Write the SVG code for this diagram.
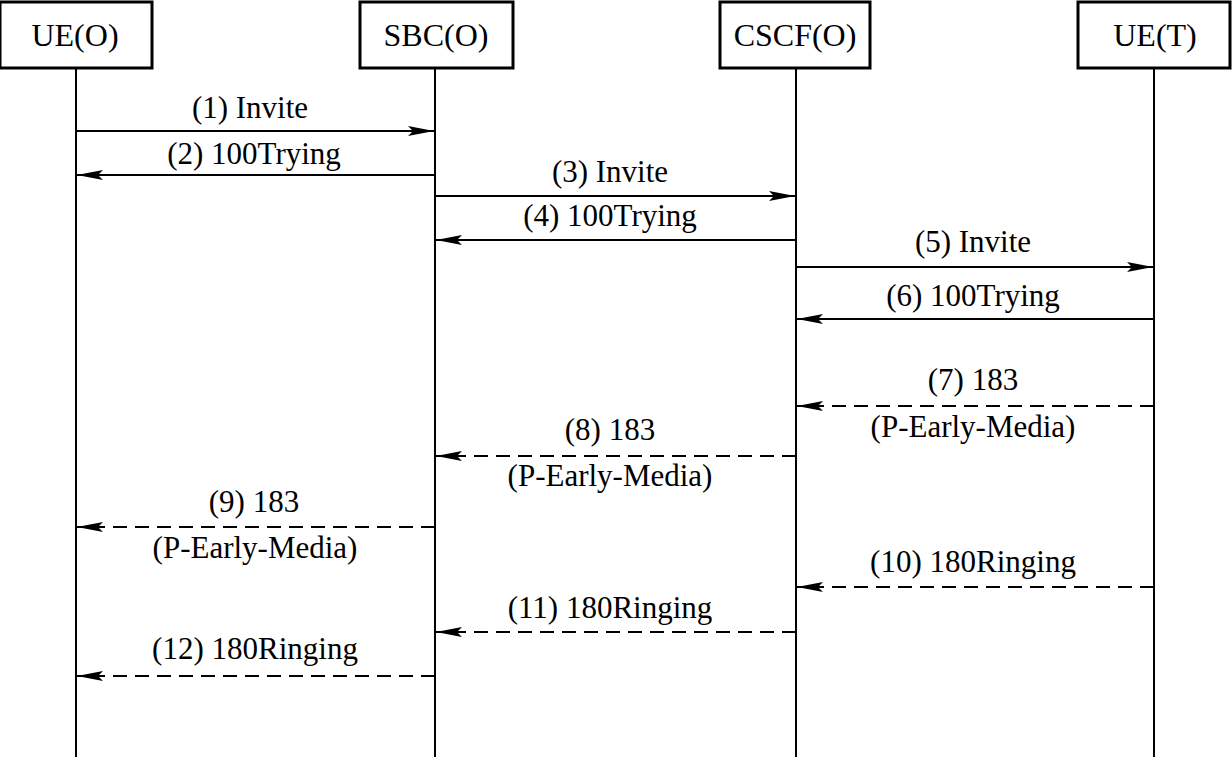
<svg xmlns="http://www.w3.org/2000/svg" width="1232" height="757" viewBox="0 0 1232 757">
<defs>
<style>
.box{fill:#fff;stroke:#000;stroke-width:3}
.life{stroke:#000;stroke-width:2}
text{font-family:"Liberation Serif","Times New Roman",serif;font-size:31px;fill:#000;text-anchor:middle}
.hd{font-size:32px}
.msg{stroke:#000;stroke-width:2;fill:none}
.dash{stroke-dasharray:14 8}
</style>
<marker id="ah" viewBox="0 0 26 10" refX="26" refY="5" markerWidth="26" markerHeight="10" markerUnits="userSpaceOnUse" orient="auto-start-reverse">
<path d="M0,0 L26,5 L0,10 L5,5 Z" fill="#000"/>
</marker>
</defs>
<rect width="1232" height="757" fill="#fff"/>
<g id="lifelines">
<line class="life" x1="76" y1="68" x2="76" y2="757"/>
<line class="life" x1="435" y1="68" x2="435" y2="757"/>
<line class="life" x1="796" y1="68" x2="796" y2="757"/>
<line class="life" x1="1154" y1="68" x2="1154" y2="757"/>
</g>
<g id="ue-o"><rect class="box" x="0" y="2" width="152" height="66"/><text class="hd" x="75" y="46">UE(O)</text></g>
<g id="sbc-o"><rect class="box" x="360" y="2" width="153" height="66"/><text class="hd" x="436" y="46">SBC(O)</text></g>
<g id="cscf-o"><rect class="box" x="720" y="2" width="150" height="66"/><text class="hd" x="795" y="46">CSCF(O)</text></g>
<g id="ue-t"><rect class="box" x="1078" y="2" width="152" height="66"/><text class="hd" x="1155" y="46">UE(T)</text></g>
<g id="connectors">
<line class="msg" x1="76" y1="131" x2="434" y2="131" marker-end="url(#ah)"/>
<line class="msg" x1="435" y1="175" x2="77" y2="175" marker-end="url(#ah)"/>
<line class="msg" x1="435" y1="196" x2="795" y2="196" marker-end="url(#ah)"/>
<line class="msg" x1="796" y1="240" x2="436" y2="240" marker-end="url(#ah)"/>
<line class="msg" x1="796" y1="267" x2="1153" y2="267" marker-end="url(#ah)"/>
<line class="msg" x1="1154" y1="319" x2="797" y2="319" marker-end="url(#ah)"/>
<line class="msg dash" x1="1154" y1="406" x2="797" y2="406" marker-end="url(#ah)"/>
<line class="msg dash" x1="796" y1="456" x2="436" y2="456" marker-end="url(#ah)"/>
<line class="msg dash" x1="435" y1="527" x2="77" y2="527" marker-end="url(#ah)"/>
<line class="msg dash" x1="1154" y1="587" x2="797" y2="587" marker-end="url(#ah)"/>
<line class="msg dash" x1="796" y1="632" x2="436" y2="632" marker-end="url(#ah)"/>
<line class="msg dash" x1="435" y1="676" x2="77" y2="676" marker-end="url(#ah)"/>
</g>
<g id="labels">
<text x="250" y="118">(1) Invite</text>
<text x="254" y="164">(2) 100Trying</text>
<text x="610" y="182">(3) Invite</text>
<text x="610" y="226">(4) 100Trying</text>
<text x="973" y="252">(5) Invite</text>
<text x="973" y="306">(6) 100Trying</text>
<text x="973" y="390">(7) 183</text>
<text x="973" y="437">(P-Early-Media)</text>
<text x="610" y="440">(8) 183</text>
<text x="610" y="486">(P-Early-Media)</text>
<text x="254" y="512">(9) 183</text>
<text x="255" y="558">(P-Early-Media)</text>
<text x="973" y="572">(10) 180Ringing</text>
<text x="610" y="618">(11) 180Ringing</text>
<text x="255" y="659">(12) 180Ringing</text>
</g>
</svg>
